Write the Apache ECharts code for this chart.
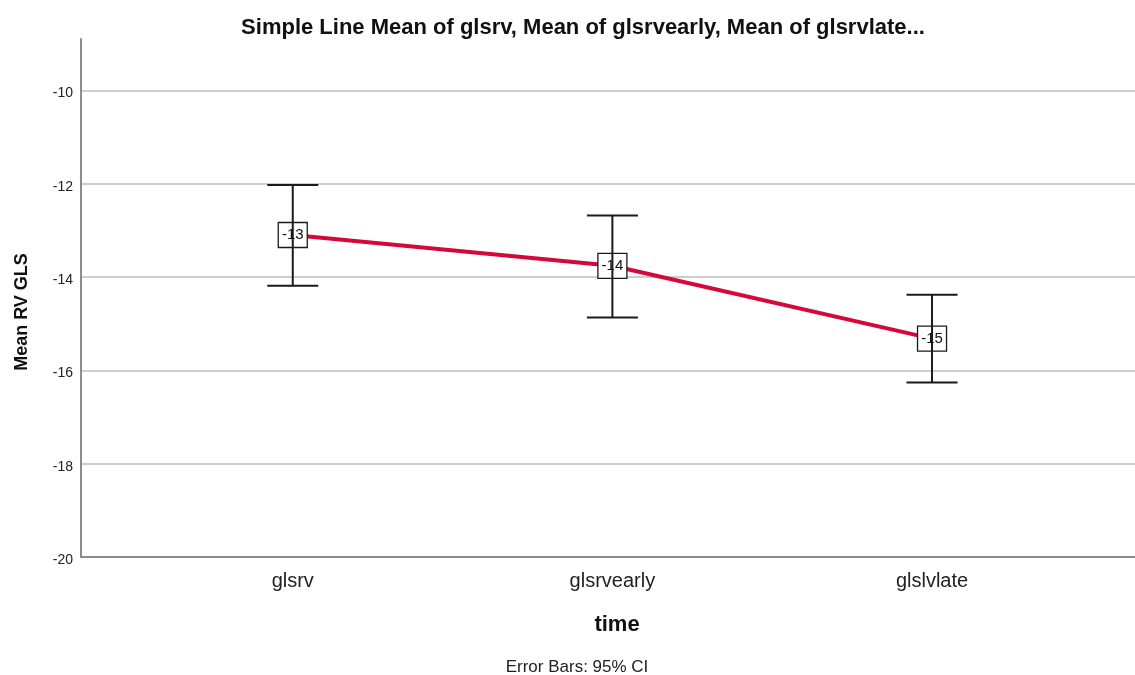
<!DOCTYPE html>
<html>
<head>
<meta charset="utf-8">
<script src="https://cdn.jsdelivr.net/npm/echarts@6/dist/echarts.min.js"></script>
<style>html,body{margin:0;padding:0;background:#fff;}#c{width:1135px;height:675px;}</style>
</head>
<body>
<div id="c"></div>
<script>
const categories = ['glsrv', 'glsrvearly', 'glslvlate'];
const means = [-13.10, -13.76, -15.32];
const ciLower = [-14.19, -14.87, -16.26];
const ciUpper = [-12.03, -12.68, -14.38];
const yTicks = [-20, -18, -16, -14, -12, -10];

const chart = echarts.init(document.getElementById('c'), null, {renderer: 'canvas'});
const font = 'Arial, "Liberation Sans", sans-serif';

const lineData = means.map((m, i) => [i, m]);
const errData = means.map((m, i) => [i, m, ciLower[i], ciUpper[i]]);

chart.setOption({
  animation: false,
  backgroundColor: '#fff',
  title: [
    {text: 'Simple Line Mean of glsrv, Mean of glsrvearly, Mean of glsrvlate...', left: 578, top: 12, padding: 5, textAlign: 'center',
     textStyle: {fontFamily: font, fontSize: 22, fontWeight: 'bold', color: '#111'}},
    {text: 'time', left: 612, top: 609, textAlign: 'center',
     textStyle: {fontFamily: font, fontSize: 22, fontWeight: 'bold', color: '#111'}},
    {text: 'Error Bars: 95% CI', left: 572, top: 654, textAlign: 'center',
     textStyle: {fontFamily: font, fontSize: 17, fontWeight: 'normal', color: '#222'}}
  ],
  graphic: [
    {type: 'text', x: 22, y: 312, rotation: Math.PI / 2,
     style: {text: 'Mean RV GLS', fontFamily: font, fontSize: 18, fontWeight: 'bold', fill: '#111',
       align: 'center', verticalAlign: 'middle'}}
  ],
  grid: {left: 81, right: 0, top: 39, bottom: 118, containLabel: false},
  xAxis: {
    type: 'value', min: -0.6625, max: 2.635,
    axisLine: {show: true, onZero: false, lineStyle: {color: '#8c8c8c', width: 2}},
    axisTick: {show: false, customValues: [0, 1, 2]},
    splitLine: {show: false},
    axisLabel: {customValues: [0, 1, 2], formatter: v => categories[Math.round(v)] || '',
      fontFamily: font, fontSize: 20, color: '#222', margin: 14}
  },
  yAxis: {
    type: 'value', min: -20, max: -8.9,
    axisLine: {show: true, onZero: false, lineStyle: {color: '#8c8c8c', width: 2}},
    axisTick: {show: false, customValues: yTicks},
    splitLine: {show: true, lineStyle: {color: '#bdbdbd', width: 1.5}},
    axisLabel: {customValues: yTicks, fontFamily: font, fontSize: 14, color: '#222', margin: 8,
      verticalAlign: 'top', padding: [-4, 0, 0, 0]}
  },
  series: [
    {
      type: 'line', data: lineData, symbol: 'none', z: 2,
      lineStyle: {color: '#d5083a', width: 4}
    },
    {
      type: 'custom', z: 5, data: errData,
      renderItem: function (params, api) {
        const x = api.value(0), m = api.value(1), lo = api.value(2), hi = api.value(3);
        const pm = api.coord([x, m]);
        const pl = api.coord([x, lo]);
        const ph = api.coord([x, hi]);
        const cap = 25.5;
        const st = {stroke: '#1a1a1a', lineWidth: 2};
        return {
          type: 'group',
          children: [
            {type: 'rect', shape: {x: pm[0] - 14.5, y: pm[1] - 12.5, width: 29, height: 25},
             style: {fill: '#fff', stroke: '#1a1a1a', lineWidth: 1.3}},
            {type: 'text', x: pm[0], y: pm[1],
             style: {text: String(Math.round(m)), fontFamily: font, fontSize: 15, fill: '#111', align: 'center', verticalAlign: 'middle'}},
            {type: 'line', shape: {x1: pl[0], y1: pl[1], x2: ph[0], y2: ph[1]}, style: st},
            {type: 'line', shape: {x1: pl[0] - cap, y1: pl[1], x2: pl[0] + cap, y2: pl[1]}, style: st},
            {type: 'line', shape: {x1: ph[0] - cap, y1: ph[1], x2: ph[0] + cap, y2: ph[1]}, style: st}
          ]
        };
      }
    }
  ]
});
</script>
</body>
</html>
